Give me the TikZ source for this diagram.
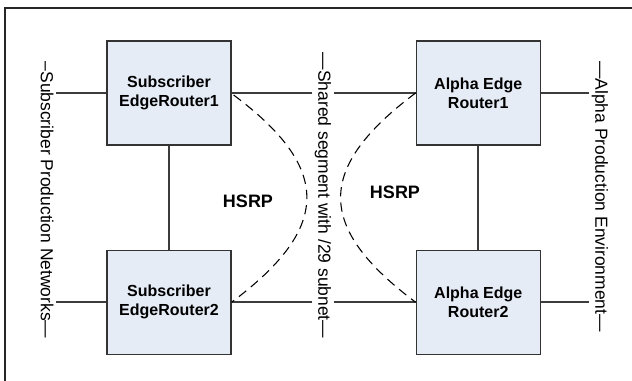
\documentclass[tikz,border=0pt]{standalone}
\usepackage{fontspec}
\setmainfont{Liberation Sans}
\usepackage{xcolor}
\usetikzlibrary{positioning, calc}
\definecolor{routerfill}{RGB}{230,236,246}
\definecolor{linkgray}{RGB}{60,60,60}
\tikzset{
	router/.style={rectangle, draw=black!80, line width=0.9pt, fill=routerfill, minimum width=93pt, minimum height=78pt, align=center, font=\fontsize{12pt}{14.25pt}\selectfont\bfseries},
	link/.style={draw=linkgray, line width=1.1pt},
	hsrp arc/.style={draw=black, line width=0.8pt, dash pattern=on 7pt off 4.5pt}
}

\begin{document}
\begin{tikzpicture}[
	x=0.75pt, y=-0.75pt,
	node distance = 78pt and 138pt,
	% Styles
	side label/.style = {rotate=-90, inner sep=2pt, font=\fontsize{13.1pt}{15pt}\selectfont},
	hsrp/.style = {font=\fontsize{13.5pt}{16pt}\selectfont\bfseries}
	]
	\useasboundingbox (0,0) rectangle (632,381);
	
	% Outer frame
	\draw[line width=1.5pt, draw=black!85] (640,8) -- (5,8) -- (5,390);
	
	% Routers
	\node[router] (sub1) at (169,93) {Subscriber\\EdgeRouter1};
	\node[router, right=of sub1] (alpha1) {Alpha Edge\\Router1};
	\node[router, below=of sub1] (sub2) {Subscriber\\EdgeRouter2};
	\node[router, below=of alpha1] (alpha2) {Alpha Edge\\Router2};
	
	% Segment labels
	\node[side label] (nets) at (47,200) {–Subscriber Production Networks—};
	\node[side label] (seg) at (323,195.5) {—Shared segment with /29 subnet—};
	\node[side label] (env) at (600,196.5) {—Alpha Production Environment—};
	
	% HSRP groups
	\node[hsrp] (hsrpL) at (248,201) {HSRP};
	\node[hsrp] (hsrpR) at (395,192) {HSRP};
	
	% Links
	\draw[link] (sub1) -- (sub2);
	\draw[link] (alpha1) -- (alpha2);
	
	\draw[link] (sub1.west) -- (sub1.west -| nets.north);
	\draw[link] (sub2.west) -- (sub2.west -| nets.north);
	
	\draw[link] (sub1.east) -- (sub1.east -| seg.south);
	\draw[link] (seg.north |- alpha1.west) -- (alpha1.west);
	\draw[link] (sub2.east) -- (sub2.east -| seg.south);
	\draw[link] (seg.north |- alpha2.west) -- (alpha2.west);
	
	\draw[link] (alpha1.east) -- (alpha1.east -| env.south);
	\draw[link] (alpha2.east) -- (alpha2.east -| env.south);
	
	% HSRP arcs
	\draw[hsrp arc] ($(sub1.east)+(2,2)$) .. controls +(99,74) and +(99,-74) .. (sub2.east);
	\draw[hsrp arc] (alpha1.west) .. controls +(-100,75) and +(-100,-75) .. (alpha2.west);
	
\end{tikzpicture}
\end{document}
